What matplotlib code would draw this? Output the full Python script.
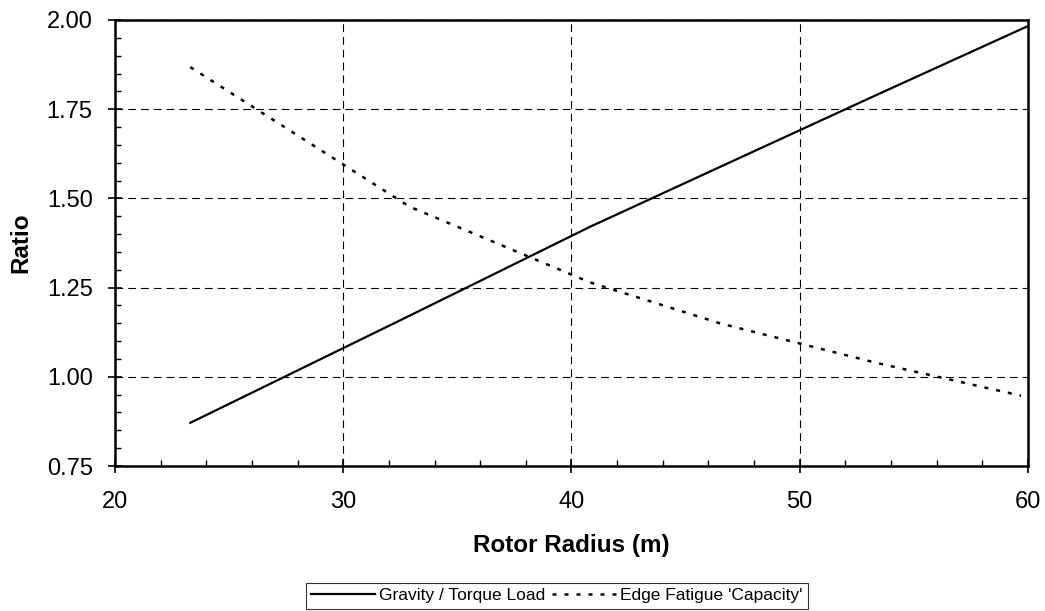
import numpy as np
import matplotlib
matplotlib.use('Agg')
import matplotlib.pyplot as plt
from matplotlib.ticker import MultipleLocator, FormatStrFormatter

plt.rcParams['font.family'] = ['Liberation Sans', 'DejaVu Sans']

# values
gravity_radius = [23.3, 32.9, 40.8, 46.5, 53.3, 60.0]
gravity_ratio = [0.871, 1.171, 1.420, 1.588, 1.788, 1.983]

fatigue_radius = [23.3, 32.9, 40.8, 46.5, 53.3, 59.7]
fatigue_ratio = [1.868, 1.477, 1.265, 1.150, 1.040, 0.947]

x_ticks = [20, 30, 40, 50, 60]
y_ticks = [0.75, 1.00, 1.25, 1.50, 1.75, 2.00]

fig = plt.figure(figsize=(10.45, 6.11), dpi=100)
ax = fig.add_axes([0.110, 0.2373, 0.8737, 0.730])

ax.plot(gravity_radius, gravity_ratio, color='black', lw=1.6,
        label='Gravity / Torque Load')
ax.plot(fatigue_radius, fatigue_ratio, color='black', lw=1.8,
        dashes=(1.6, 3.2), dash_capstyle='butt', label="Edge Fatigue 'Capacity'")

ax.set_xlim(20, 60)
ax.set_ylim(0.75, 2.00)
ax.set_xticks(x_ticks)
ax.set_yticks(y_ticks)
ax.yaxis.set_major_formatter(FormatStrFormatter('%.2f'))
ax.xaxis.set_minor_locator(MultipleLocator(2))
ax.yaxis.set_minor_locator(MultipleLocator(0.05))

ax.tick_params(which='major', direction='inout', length=10, width=1.2,
               labelsize=17, pad=11)
ax.tick_params(axis='x', which='major', pad=13)
ax.tick_params(which='minor', direction='in', length=4.5, width=1.0)

ax.grid(True, which='major', color='black', lw=0.8, linestyle=(0, (7, 4.5)))

for s in ax.spines.values():
    s.set_linewidth(1.8)

ax.set_xlabel('Rotor Radius (m)', fontsize=17.5, fontweight='bold', labelpad=15)
ax.set_ylabel('Ratio', fontsize=17.5, fontweight='bold', labelpad=10)

leg = fig.legend(loc='upper left', bbox_to_anchor=(306 / 1045, 1 - 583 / 611),
                 ncol=2, frameon=True, fancybox=False, edgecolor='black',
                 fontsize=12.5, handlelength=3.7, handletextpad=0.2,
                 columnspacing=0.4, borderpad=0.3, borderaxespad=0)
leg.get_frame().set_linewidth(0.8)

fig.savefig('out.png', dpi=100)
